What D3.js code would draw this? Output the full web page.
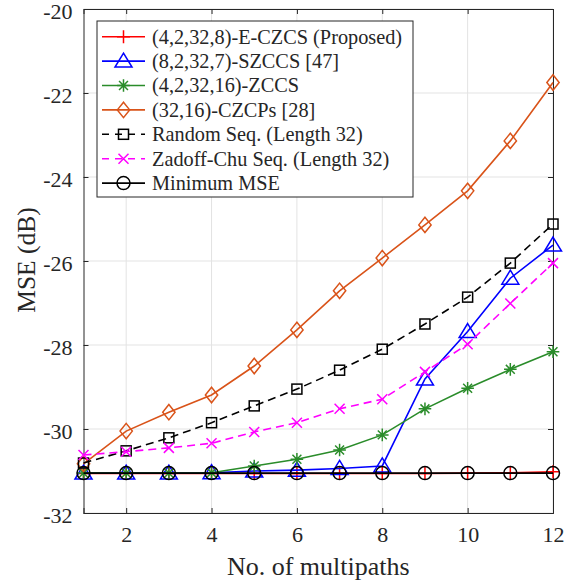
<!DOCTYPE html>
<html>
<head>
<meta charset="utf-8">
<script src="https://cdn.jsdelivr.net/npm/d3@7"></script>
<style>
  body { margin: 0; background: #fff; }
  svg text { font-family: "Liberation Serif", "Times New Roman", serif; fill: #262626; }
</style>
</head>
<body>
<div id="chart"></div>
<script>
// Data
const multipaths = [1, 2, 3, 4, 5, 6, 7, 8, 9, 10, 11, 12];
const xTicks = [2, 4, 6, 8, 10, 12];
const yTicks = [-32, -30, -28, -26, -24, -22, -20];

const eczcs = [-31.06, -31.06, -31.06, -31.06, -31.06, -31.06, -31.06, -31.06, -31.06, -31.05, -31.04, -31.02];
const szccs = [-31.05, -31.05, -31.05, -31.04, -31.0, -30.98, -30.94, -30.88, -28.81, -27.68, -26.41, -25.62];
const zccs = [-31.05, -31.05, -31.05, -31.04, -30.88, -30.72, -30.5, -30.14, -29.52, -29.03, -28.58, -28.16];
const czcps = [-30.83, -30.05, -29.6, -29.19, -28.5, -27.64, -26.71, -25.93, -25.14, -24.33, -23.14, -21.75];
const randomSeq = [-30.81, -30.52, -30.21, -29.85, -29.45, -29.05, -28.6, -28.1, -27.5, -26.86, -26.05, -25.12];
const zadoffChu = [-30.62, -30.54, -30.45, -30.34, -30.07, -29.85, -29.52, -29.29, -28.64, -27.98, -27.01, -26.05];
const minMse = [-31.05, -31.05, -31.05, -31.05, -31.05, -31.05, -31.05, -31.05, -31.05, -31.05, -31.05, -31.05];

const series = [
  { name: "(4,2,32,8)-E-CZCS (Proposed)", values: eczcs, color: "#ff0000", marker: "plus", dash: null },
  { name: "(8,2,32,7)-SZCCS [47]", values: szccs, color: "#0000ff", marker: "triangle", dash: null },
  { name: "(4,2,32,16)-ZCCS", values: zccs, color: "#2a8c2a", marker: "star", dash: null },
  { name: "(32,16)-CZCPs [28]", values: czcps, color: "#d95319", marker: "diamond", dash: null },
  { name: "Random Seq. (Length 32)", values: randomSeq, color: "#000000", marker: "square", dash: "8,5" },
  { name: "Zadoff-Chu Seq. (Length 32)", values: zadoffChu, color: "#ff00ff", marker: "cross", dash: "8,5" },
  { name: "Minimum MSE", values: minMse, color: "#000000", marker: "circle", dash: null }
];

const WIDTH = 577;
const HEIGHT = 584;
const MARGIN = { left: 83.5, top: 9, right: 24, bottom: 71 };

const svg = d3.select("#chart")
  .append("svg")
  .attr("width", WIDTH)
  .attr("height", HEIGHT);

const x = d3.scaleLinear().domain([1, 12]).range([MARGIN.left, WIDTH - MARGIN.right]);
const y = d3.scaleLinear().domain([-32, -20]).range([HEIGHT - MARGIN.bottom, MARGIN.top]);

// Grid
svg.append("g")
  .selectAll("line.vgrid")
  .data(xTicks)
  .enter().append("line")
  .attr("x1", d => x(d)).attr("x2", d => x(d))
  .attr("y1", y(-32)).attr("y2", y(-20))
  .attr("stroke", "#e3e3e3").attr("stroke-width", 1);

svg.append("g")
  .selectAll("line.hgrid")
  .data(yTicks)
  .enter().append("line")
  .attr("x1", x(1)).attr("x2", x(12))
  .attr("y1", d => y(d)).attr("y2", d => y(d))
  .attr("stroke", "#e3e3e3").attr("stroke-width", 1);

// Axes (ticks inside, box)
const tickLen = 5;
const axisColor = "#262626";

const xAxisBottom = svg.append("g")
  .attr("transform", "translate(0," + y(-32) + ")")
  .call(d3.axisBottom(x).tickValues(xTicks).tickSize(-tickLen).tickPadding(13).tickFormat(d3.format("d")));
const xAxisTop = svg.append("g")
  .attr("transform", "translate(0," + y(-20) + ")")
  .call(d3.axisTop(x).tickValues(xTicks).tickSize(-tickLen).tickFormat(""));
const yAxisLeft = svg.append("g")
  .attr("transform", "translate(" + x(1) + ",0)")
  .call(d3.axisLeft(y).tickValues(yTicks).tickSize(-tickLen).tickPadding(11).tickFormat(d => String(d).replace("\u2212", "-")));
const yAxisRight = svg.append("g")
  .attr("transform", "translate(" + x(12) + ",0)")
  .call(d3.axisRight(y).tickValues(yTicks).tickSize(-tickLen).tickFormat(""));

[xAxisBottom, xAxisTop, yAxisLeft, yAxisRight].forEach(g => {
  g.select(".domain").attr("stroke", axisColor).attr("stroke-width", 1);
  g.selectAll(".tick line").attr("stroke", axisColor);
  g.selectAll(".tick text").attr("font-size", 22).attr("fill", axisColor)
    .style("font-family", "'Liberation Serif', serif");
});
yAxisLeft.selectAll(".tick text").attr("dy", "0.42em");

// Lines
const line = d3.line()
  .x((d, i) => x(multipaths[i]))
  .y(d => y(d));

function drawMarker(g, type, cx, cy, color) {
  const sw = 1.5;
  if (type === "plus") {
    g.append("path").attr("d", `M${cx - 6.5},${cy}H${cx + 6.5}M${cx},${cy - 6.5}V${cy + 6.5}`)
      .attr("stroke", color).attr("stroke-width", sw).attr("fill", "none");
  } else if (type === "triangle") {
    g.append("path").attr("d", `M${cx},${cy - 8}L${cx + 8.5},${cy + 6}L${cx - 8.5},${cy + 6}Z`)
      .attr("stroke", color).attr("stroke-width", sw).attr("fill", "none");
  } else if (type === "star") {
    const r = 6.3;
    const d = r * 0.7071;
    g.append("path").attr("d", `M${cx - r},${cy}H${cx + r}M${cx},${cy - r}V${cy + r}M${cx - d},${cy - d}L${cx + d},${cy + d}M${cx - d},${cy + d}L${cx + d},${cy - d}`)
      .attr("stroke", color).attr("stroke-width", sw).attr("fill", "none");
  } else if (type === "diamond") {
    const r = 7.7;
    g.append("path").attr("d", `M${cx},${cy - r}L${cx + r * 0.8},${cy}L${cx},${cy + r}L${cx - r * 0.8},${cy}Z`)
      .attr("stroke", color).attr("stroke-width", sw).attr("fill", "none");
  } else if (type === "square") {
    g.append("rect").attr("x", cx - 5).attr("y", cy - 5).attr("width", 10).attr("height", 10)
      .attr("stroke", color).attr("stroke-width", sw).attr("fill", "none");
  } else if (type === "cross") {
    const r = 5;
    g.append("path").attr("d", `M${cx - r},${cy - r}L${cx + r},${cy + r}M${cx - r},${cy + r}L${cx + r},${cy - r}`)
      .attr("stroke", color).attr("stroke-width", sw).attr("fill", "none");
  } else if (type === "circle") {
    g.append("circle").attr("cx", cx).attr("cy", cy).attr("r", 6.5)
      .attr("stroke", color).attr("stroke-width", sw).attr("fill", "none");
  }
}

const plotG = svg.append("g");
series.forEach(s => {
  plotG.append("path")
    .datum(s.values)
    .attr("d", line)
    .attr("fill", "none")
    .attr("stroke", s.color)
    .attr("stroke-width", 1.6)
    .attr("stroke-dasharray", s.dash);
  const mg = plotG.append("g");
  s.values.forEach((v, i) => drawMarker(mg, s.marker, x(multipaths[i]), y(v), s.color));
});

// Legend
const legend = svg.append("g");
const lgX = 97, lgY = 21, lgW = 316, lgH = 176;
legend.append("rect")
  .attr("x", lgX).attr("y", lgY).attr("width", lgW).attr("height", lgH)
  .attr("fill", "#fff").attr("stroke", axisColor).attr("stroke-width", 1);

series.forEach((s, i) => {
  const ry = 36.7 + i * 24.4;
  legend.append("line")
    .attr("x1", 102).attr("x2", 145).attr("y1", ry).attr("y2", ry)
    .attr("stroke", s.color).attr("stroke-width", 1.6)
    .attr("stroke-dasharray", s.dash ? "7,6" : null);
  drawMarker(legend, s.marker, 123.5, ry, s.color);
  legend.append("text")
    .attr("x", 152).attr("y", ry + 6.8)
    .attr("font-size", 20.3)
    .text(s.name);
});

// Axis labels
svg.append("text")
  .attr("x", (x(1) + x(12)) / 2)
  .attr("y", 575)
  .attr("text-anchor", "middle")
  .attr("font-size", 26)
  .text("No. of multipaths");

svg.append("text")
  .attr("transform", "translate(35," + ((y(-20) + y(-32)) / 2 - 1) + ") rotate(-90)")
  .attr("text-anchor", "middle")
  .attr("font-size", 25.5)
  .text("MSE (dB)");
</script>
</body>
</html>
